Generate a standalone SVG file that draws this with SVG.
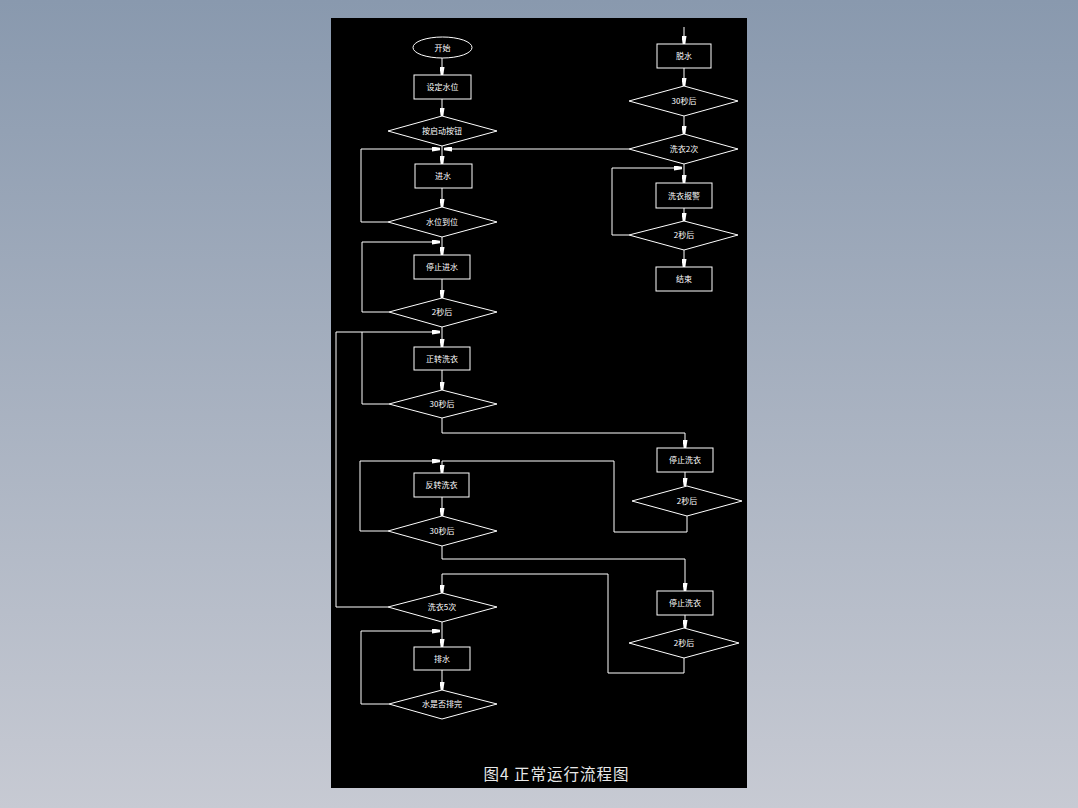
<svg xmlns="http://www.w3.org/2000/svg" width="1078" height="808" viewBox="0 0 1078 808">
<defs>
<linearGradient id="bg" x1="0" y1="0" x2="0" y2="1">
<stop offset="0" stop-color="#8999ae"/>
<stop offset="1" stop-color="#c7cad3"/>
</linearGradient>
<marker id="ar" markerUnits="userSpaceOnUse" markerWidth="8" markerHeight="5" viewBox="0 0 8 5" refX="8" refY="2.5" orient="auto">
<path d="M0,0 L8,1.2 L8,3.8 L0,5 z" fill="#fff"/>
</marker>
</defs>
<style>
.n{fill:none;stroke:#fff;stroke-width:1}
.t{fill:#fff;font-family:"Noto Sans CJK SC","Noto Sans",sans-serif;font-size:8px;text-anchor:middle}
.c{fill:none;stroke:#fff;stroke-width:1}
.a{marker-end:url(#ar)}
</style>
<rect width="1078" height="808" fill="url(#bg)"/>
<rect x="331" y="18" width="416" height="770" fill="#000"/>

<g id="start"><ellipse class="n" cx="442.5" cy="47.5" rx="29.5" ry="10.5"/><text class="t" x="442.5" y="50.5">开始</text></g>
<g id="setLevel"><rect class="n" x="414" y="75" width="57" height="24"/><text class="t" x="442.5" y="90">设定水位</text></g>
<g id="pressStart"><polygon class="n" points="388,131 442,116 497,131 442,146"/><text class="t" x="442" y="134">按启动按钮</text></g>
<g id="inlet"><rect class="n" x="415" y="164" width="57" height="24"/><text class="t" x="443" y="179">进水</text></g>
<g id="levelReached"><polygon class="n" points="388,222 442,207 497,222 442,237"/><text class="t" x="442" y="225">水位到位</text></g>
<g id="stopInlet"><rect class="n" x="414" y="255" width="56" height="24"/><text class="t" x="442" y="270">停止进水</text></g>
<g id="wait2a"><polygon class="n" points="389,312 442,298 497,312 442,327"/><text class="t" x="442" y="315">2秒后</text></g>
<g id="forwardWash"><rect class="n" x="414" y="347" width="56" height="23"/><text class="t" x="442" y="361.5">正转洗衣</text></g>
<g id="wait30a"><polygon class="n" points="389,404 442,390 497,404 442,418"/><text class="t" x="442" y="407">30秒后</text></g>
<g id="reverseWash"><rect class="n" x="414" y="473" width="55" height="24"/><text class="t" x="441.5" y="488">反转洗衣</text></g>
<g id="wait30b"><polygon class="n" points="388,531 442,516 497,531 442,546"/><text class="t" x="442" y="534">30秒后</text></g>
<g id="wash5"><polygon class="n" points="388,607 442,593 497,607 442,622"/><text class="t" x="442" y="610">洗衣5次</text></g>
<g id="drain"><rect class="n" x="414" y="647" width="56" height="23"/><text class="t" x="442" y="661.5">排水</text></g>
<g id="drained"><polygon class="n" points="389,704 442,690 497,704 442,719"/><text class="t" x="442" y="707">水是否排完</text></g>

<g id="spin"><rect class="n" x="657" y="44" width="54" height="24"/><text class="t" x="684" y="59">脱水</text></g>
<g id="wait30c"><polygon class="n" points="629,101 684,86 738,101 684,116"/><text class="t" x="684" y="104">30秒后</text></g>
<g id="wash2"><polygon class="n" points="629,149 684,134 738,149 684,164"/><text class="t" x="684" y="152">洗衣2次</text></g>
<g id="alarm"><rect class="n" x="656" y="183" width="56" height="25"/><text class="t" x="684" y="198.5">洗衣报警</text></g>
<g id="wait2b"><polygon class="n" points="629,235 684,221 738,235 684,250"/><text class="t" x="684" y="238">2秒后</text></g>
<g id="end"><rect class="n" x="656" y="267" width="56" height="24"/><text class="t" x="684" y="282">结束</text></g>
<g id="stopWash1"><rect class="n" x="657" y="448" width="56" height="24"/><text class="t" x="685" y="463">停止洗衣</text></g>
<g id="wait2c"><polygon class="n" points="632,501 687,486 742,501 687,516"/><text class="t" x="687" y="504">2秒后</text></g>
<g id="stopWash2"><rect class="n" x="657" y="591" width="56" height="24"/><text class="t" x="685" y="606">停止洗衣</text></g>
<g id="wait2d"><polygon class="n" points="629,643 684,628 739,643 684,658"/><text class="t" x="684" y="646">2秒后</text></g>

<g id="connectors">
<path class="c a" d="M442,58 V75"/>
<path class="c a" d="M442,99 V116"/>
<path class="c a" d="M442,146 V164"/>
<path class="c a" d="M388,222 H361 V149 H440"/>
<path class="c a" d="M629,149 H444"/>
<path class="c a" d="M442,188 V207"/>
<path class="c a" d="M442,237 V255"/>
<path class="c a" d="M389,312 H362 V242 H440"/>
<path class="c a" d="M442,279 V298"/>
<path class="c a" d="M442,327 V347"/>
<path class="c" d="M389,404 H362 V332"/>
<path class="c a" d="M388,607 H336 V332 H440"/>
<path class="c a" d="M442,370 V390"/>
<path class="c a" d="M442,418 V433 H685 V448"/>
<path class="c a" d="M685,472 V486"/>
<path class="c" d="M687,516 V532 H614 V461 H442"/>
<path class="c a" d="M388,531 H360 V461 H440"/>
<path class="c a" d="M442,461 V473"/>
<path class="c a" d="M442,497 V516"/>
<path class="c a" d="M442,546 V559 H685 V591"/>
<path class="c a" d="M685,615 V628"/>
<path class="c a" d="M684,658 V673 H608 V574 H442 V593"/>
<path class="c a" d="M442,622 V647"/>
<path class="c a" d="M389,704 H361 V631 H440"/>
<path class="c a" d="M442,670 V690"/>
<path class="c a" d="M684,27 V44"/>
<path class="c a" d="M684,68 V86"/>
<path class="c a" d="M684,116 V134"/>
<path class="c a" d="M684,164 V183"/>
<path class="c a" d="M629,235 H612 V168 H682"/>
<path class="c a" d="M684,208 V221"/>
<path class="c a" d="M684,250 V267"/>
</g>

<text x="556.5" y="780" fill="#e8e8e8" font-family="Noto Sans CJK SC, sans-serif" font-size="15.5" text-anchor="middle" letter-spacing="1">图4 正常运行流程图</text>
</svg>
